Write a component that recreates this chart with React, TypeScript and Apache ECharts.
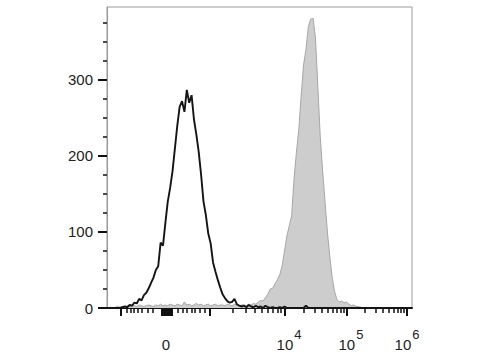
import { useEffect, useRef } from "react";
import * as echarts from "echarts";

// Histogram: 256 display channels, bins of 2 channels
const CHANNEL_MAX = 256;
const BIN_WIDTH = 2;
const Y_MAX = 396;

// unstained / control (black outline)
const blackCounts = [
  0, 0, 0, 0, 0, 0, 1, 2, 1, 4, 3, 7, 6, 12, 10, 17, 20, 26, 33, 40,
  50, 55, 86, 82, 112, 140, 158, 180, 210, 240, 265, 272, 258, 287, 270, 280, 248, 228, 205, 175,
  140, 122, 98, 85, 60, 48, 37, 27, 18, 13, 9, 7, 8, 12, 5, 3, 2, 3, 1, 4,
  2, 1, 3, 1, 2, 0, 3, 1, 0, 1, 0, 0, 1, 0, 2, 0, 0, 0, 0, 0,
  0, 0, 0, 3, 0, 0, 0, 0, 0, 0, 0, 0, 0, 0, 0, 0, 0, 0, 0, 0,
  0, 0, 0, 0, 0, 0, 0, 0, 0, 0, 0, 0, 0, 0, 0, 0, 0, 0, 0, 0,
  0, 0, 0, 0, 0, 0, 0, 0,
];

// stained sample (grey filled)
const grayCounts = [
  0, 1, 0, 1, 2, 1, 2, 1, 3, 2, 2, 3, 2, 4, 3, 2, 3, 4, 3, 2,
  4, 3, 5, 3, 4, 3, 5, 4, 3, 5, 4, 3, 8, 4, 5, 3, 4, 6, 4, 5,
  3, 4, 5, 3, 4, 5, 3, 4, 4, 3, 5, 4, 3, 5, 4, 3, 4, 4, 3, 5,
  4, 6, 5, 8, 10, 9, 14, 18, 25, 26, 32, 37, 44, 55, 75, 95, 108, 122, 170, 205,
  235, 280, 320, 340, 370, 380, 381, 355, 290, 225, 180, 140, 100, 68, 40, 22, 11, 8, 9, 7,
  8, 5, 3, 4, 2, 2, 1, 0, 0, 0, 0, 0, 0, 0, 0, 0, 0, 0, 0, 0,
  0, 0, 0, 0, 0, 0, 0, 0,
];

const yMajorTicks = [0, 100, 200, 300];
const yMinorTicks = [25, 50, 75, 125, 150, 175, 225, 250, 275, 325, 350, 375];

const xMajorTicks = [11.75, 45.7, 47.0, 48.3, 49.5, 50.8, 52.0, 53.3, 54.6, 86.4, 149.4, 201.4, 251.8];
const xMinorTicks = [
  16.8, 20.1, 22.7, 26.0, 29.4, 34.4, 38.6,
  59.6, 63.8, 67.1, 71.3, 73.9, 78.1, 82.3,
  105.7, 116.7, 124.2, 130.1, 135.1, 139.3, 143.5, 146.0,
  165.3, 174.6, 180.5, 185.5, 189.7, 193.1, 196.4, 199.0,
  216.5, 225.8, 231.7, 236.7, 240.9, 244.3, 246.8, 249.3,
];
const xLabelValues = [49.5, 149.4, 201.4, 251.8];
const xLabelBase = ["0", "10", "10", "10"];
const xLabelExp = ["", "4", "5", "6"];

const FONT = "'Liberation Sans', Arial, sans-serif";

function toSeries(counts: number[]) {
  return counts.map((c, i) => [i * BIN_WIDTH + BIN_WIDTH / 2, c]);
}

export default function App() {
  const ref = useRef<HTMLDivElement>(null);
  useEffect(() => {
    if (!ref.current) return;
    const chart = echarts.init(ref.current, undefined, { renderer: "svg" });
    const xLabelFormatter = (v: number) => {
      const idx = xLabelValues.findIndex((x) => Math.abs(x - v) < 0.01);
      if (idx < 0) return "";
      const exp = xLabelExp[idx];
      if (!exp) return `{b|${xLabelBase[idx]}}`;
      return idx < xLabelValues.length - 1
        ? `{bp|${xLabelBase[idx]}}{s|${exp}}`
        : `{b|${xLabelBase[idx]}}{s|${exp}}`;
    };
    chart.setOption({
      animation: false,
      grid: {
        left: 107,
        right: 68,
        top: 7,
        bottom: 49,
        show: true,
        borderColor: "#9a9a9a",
        borderWidth: 1,
        backgroundColor: "transparent",
      },
      xAxis: [
        {
          type: "value",
          position: "bottom",
          min: 0,
          max: CHANNEL_MAX,
          splitLine: { show: false },
          axisLine: { show: true, lineStyle: { color: "#111", width: 2 } },
          axisTick: {
            show: true,
            customValues: xMajorTicks,
            length: 8,
            lineStyle: { color: "#111", width: 2 },
          },
          axisLabel: {
            show: true,
            customValues: xLabelValues,
            margin: 20,
            formatter: xLabelFormatter,
            hideOverlap: false,
            rich: {
              b: { fontSize: 15, lineHeight: 32, color: "#222", fontFamily: FONT },
              bp: { fontSize: 15, lineHeight: 32, color: "#222", fontFamily: FONT, padding: [0, 0, 0, 8] },
              s: { fontSize: 13, lineHeight: 13, color: "#222", fontFamily: FONT, padding: [0, 0, 19, 1] },
            },
          },
        },
        {
          type: "value",
          position: "bottom",
          min: 0,
          max: CHANNEL_MAX,
          splitLine: { show: false },
          axisLine: { show: false },
          axisTick: {
            show: true,
            customValues: xMinorTicks,
            length: 5,
            lineStyle: { color: "#111", width: 1.5 },
          },
          axisLabel: { show: false },
        },
      ],
      yAxis: [
        {
          type: "value",
          position: "left",
          min: 0,
          max: Y_MAX,
          splitLine: { show: false },
          axisLine: { show: true, lineStyle: { color: "#9a9a9a", width: 1 } },
          axisTick: {
            show: true,
            customValues: yMajorTicks,
            length: 9,
            lineStyle: { color: "#111", width: 2 },
          },
          axisLabel: {
            show: true,
            customValues: yMajorTicks,
            margin: 14,
            color: "#222",
            fontSize: 15,
            fontFamily: FONT,
          },
        },
        {
          type: "value",
          position: "left",
          min: 0,
          max: Y_MAX,
          splitLine: { show: false },
          axisLine: { show: false },
          axisTick: {
            show: true,
            customValues: yMinorTicks,
            length: 4,
            lineStyle: { color: "#111", width: 1.5 },
          },
          axisLabel: { show: false },
        },
      ],
      series: [
        {
          type: "line",
          xAxisIndex: 0,
          yAxisIndex: 0,
          data: toSeries(grayCounts),
          symbol: "none",
          lineStyle: { color: "#a6a6a6", width: 1 },
          areaStyle: { color: "#cdcdcd", opacity: 1 },
          z: 2,
        },
        {
          type: "line",
          xAxisIndex: 0,
          yAxisIndex: 0,
          data: toSeries(blackCounts),
          symbol: "none",
          lineStyle: { color: "#141414", width: 1.9 },
          z: 3,
        },
      ],
    });
    return () => chart.dispose();
  }, []);
  return (
    <div
      ref={ref}
      style={{ position: "fixed", left: 0, top: 0, width: 480, height: 360, background: "#fff" }}
    />
  );
}
